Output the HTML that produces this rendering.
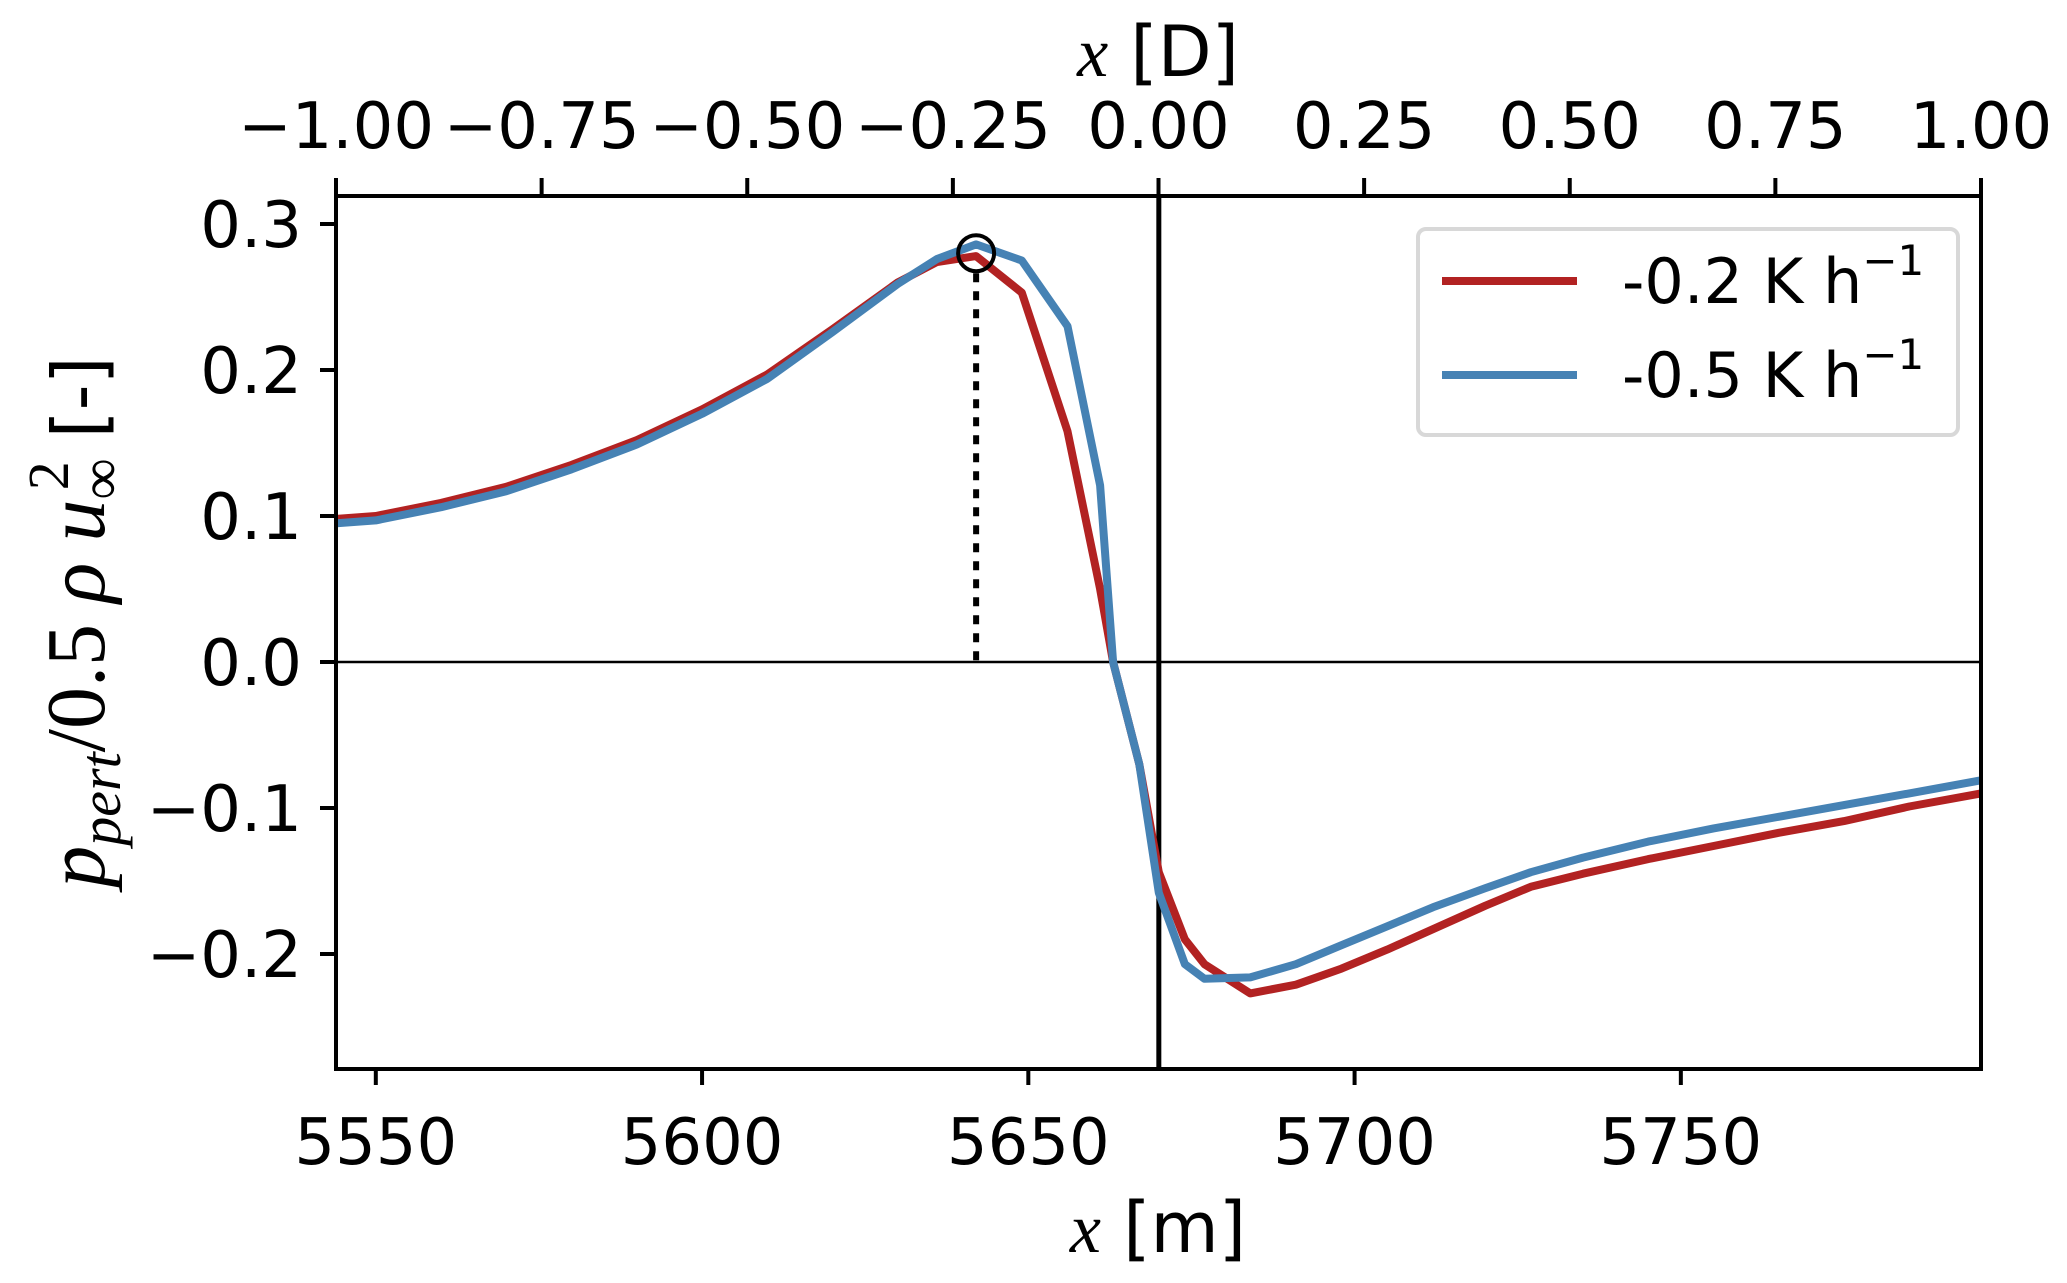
<!DOCTYPE html>
<html><head><meta charset="utf-8"><style>
body{margin:0;background:#fff;}
svg text{font-family:"DejaVu Sans","Liberation Sans",sans-serif;}
</style></head><body>
<svg width="2067" height="1278" viewBox="0 0 2067 1278" xmlns="http://www.w3.org/2000/svg">
<g id="plot"></g>
</svg>
<script>
const xMeters=[5544,5550,5560,5570,5580,5590,5600,5610,5620,5630,5636,5642,5649,5656,5661,5663,5667,5670,5674,5677,5684,5691,5698,5705,5712,5720,5727,5735,5745,5755,5765,5775,5785,5796];
const redVals=[0.098,0.100,0.109,0.120,0.135,0.152,0.173,0.197,0.228,0.260,0.274,0.278,0.253,0.158,0.05,0.0,-0.07,-0.144,-0.19,-0.207,-0.227,-0.221,-0.21,-0.197,-0.183,-0.167,-0.154,-0.145,-0.135,-0.126,-0.117,-0.109,-0.099,-0.090];
const blueVals=[0.095,0.097,0.106,0.117,0.132,0.149,0.170,0.194,0.226,0.259,0.276,0.286,0.275,0.230,0.121,0.0,-0.07,-0.158,-0.207,-0.217,-0.216,-0.207,-0.194,-0.181,-0.168,-0.155,-0.144,-0.134,-0.123,-0.114,-0.106,-0.098,-0.090,-0.081];
const xTicks=[5550,5600,5650,5700,5750];
const yTicks=[-0.2,-0.1,0.0,0.1,0.2,0.3];
const yTickLabels=["\u22120.2","\u22120.1","0.0","0.1","0.2","0.3"];
const topTicks=[-1,-0.75,-0.5,-0.25,0,0.25,0.5,0.75,1];
const topTickLabels=["\u22121.00","\u22120.75","\u22120.50","\u22120.25","0.00","0.25","0.50","0.75","1.00"];
const peakX=5642, peakY=0.28, turbineX=5670;

const L=336,R=1981,T=196,B=1069;
const xMin=5543.9,xMax=5796;
const X=m=>L+(m-xMin)/(xMax-xMin)*(R-L);
const Y=v=>662-v*1460;
const XD=d=>L+(d+1)/2*(R-L);
const NS="http://www.w3.org/2000/svg";
const g=document.getElementById('plot');
function mk(tag,attrs,txt){const e=document.createElementNS(NS,tag);for(const k in attrs)e.setAttribute(k,attrs[k]);if(txt!==undefined)e.textContent=txt;g.appendChild(e);return e;}

let e;
e=mk('line',{x1:L,x2:R,y1:Y(0),y2:Y(0),stroke:'#000','stroke-width':2.5});


e=mk('line',{x1:X(turbineX),x2:X(turbineX),y1:T,y2:B,stroke:'#000','stroke-width':5});


e=mk('line',{x1:X(peakX),x2:X(peakX),y1:Y(peakY)+20,y2:Y(0),stroke:'#000','stroke-width':6,'stroke-dasharray':'9,9'});



function series(vals,color,name){
  const pts=xMeters.map((m,i)=>X(m).toFixed(1)+','+Y(vals[i]).toFixed(1)).join(' ');
  const p=mk('polyline',{points:pts,fill:'none',stroke:color,'stroke-width':8,'stroke-linejoin':'round'});
  
  
}
series(redVals,'#b22222','series-minus-0.2');
series(blueVals,'#4682b4','series-minus-0.5');

e=mk('circle',{cx:X(peakX),cy:Y(peakY),r:18,fill:'none',stroke:'#000','stroke-width':4});



e=mk('rect',{x:L,y:T,width:R-L,height:B-T,fill:'none',stroke:'#000','stroke-width':4});



xTicks.forEach(t=>{
  e=mk('line',{x1:X(t),x2:X(t),y1:B,y2:B+16,stroke:'#000','stroke-width':4});
  
  
  e=mk('text',{x:X(t),y:1164,'font-size':64,'text-anchor':'middle'},String(t));
  
  
});
yTicks.forEach((t,i)=>{
  e=mk('line',{x1:L-16,x2:L,y1:Y(t),y2:Y(t),stroke:'#000','stroke-width':4});
  
  
  e=mk('text',{x:L-34,y:Y(t)+23,'font-size':64,'text-anchor':'end'},yTickLabels[i]);
  
  
});
topTicks.forEach((t,i)=>{
  e=mk('line',{x1:XD(t),x2:XD(t),y1:T-18,y2:T,stroke:'#000','stroke-width':4});
  
  
  e=mk('text',{x:XD(t),y:148,'font-size':64,'text-anchor':'middle'},topTickLabels[i]);
  
  
});

e=mk('text',{x:1158,y:1252,'font-size':70,'text-anchor':'middle'});
e.innerHTML='<tspan font-family="Liberation Serif,serif" font-style="italic">x</tspan> [m]';


e=mk('text',{x:1158,y:76,'font-size':70,'text-anchor':'middle'});
e.innerHTML='<tspan font-family="Liberation Serif,serif" font-style="italic">x</tspan> [D]';


e=mk('text',{x:0,y:0,'font-size':84,'text-anchor':'middle',transform:'translate(104,622) rotate(-90)'});
e.innerHTML='<tspan font-family="Liberation Serif,serif" font-style="italic">p</tspan><tspan font-family="Liberation Serif,serif" font-style="italic" font-size="58" dy="16">pert</tspan><tspan font-family="Liberation Serif,serif" dy="-16">/0.5 </tspan><tspan font-family="Liberation Serif,serif" font-style="italic">ρ u</tspan><tspan font-family="Liberation Serif,serif" font-size="58" dy="16">∞</tspan><tspan font-family="Liberation Serif,serif" font-size="58" dx="-32" dy="-52">2</tspan><tspan dy="36" font-size="72">  [-]</tspan>';



e=mk('rect',{x:1418,y:229,width:540,height:206,rx:8,fill:'#fff',stroke:'#d8d8d8','stroke-width':4});


[['#b22222','-0.2',281],['#4682b4','-0.5',375]].forEach(([c,l,y])=>{
  e=mk('line',{x1:1442,x2:1577,y1:y,y2:y,stroke:c,'stroke-width':8});
  
  
  e=mk('text',{x:1622,y:y+22,'font-size':62});
  e.innerHTML=l+' K h<tspan font-size="42" dy="-28">−1</tspan>';
  
  
});
</script>
</body></html>
